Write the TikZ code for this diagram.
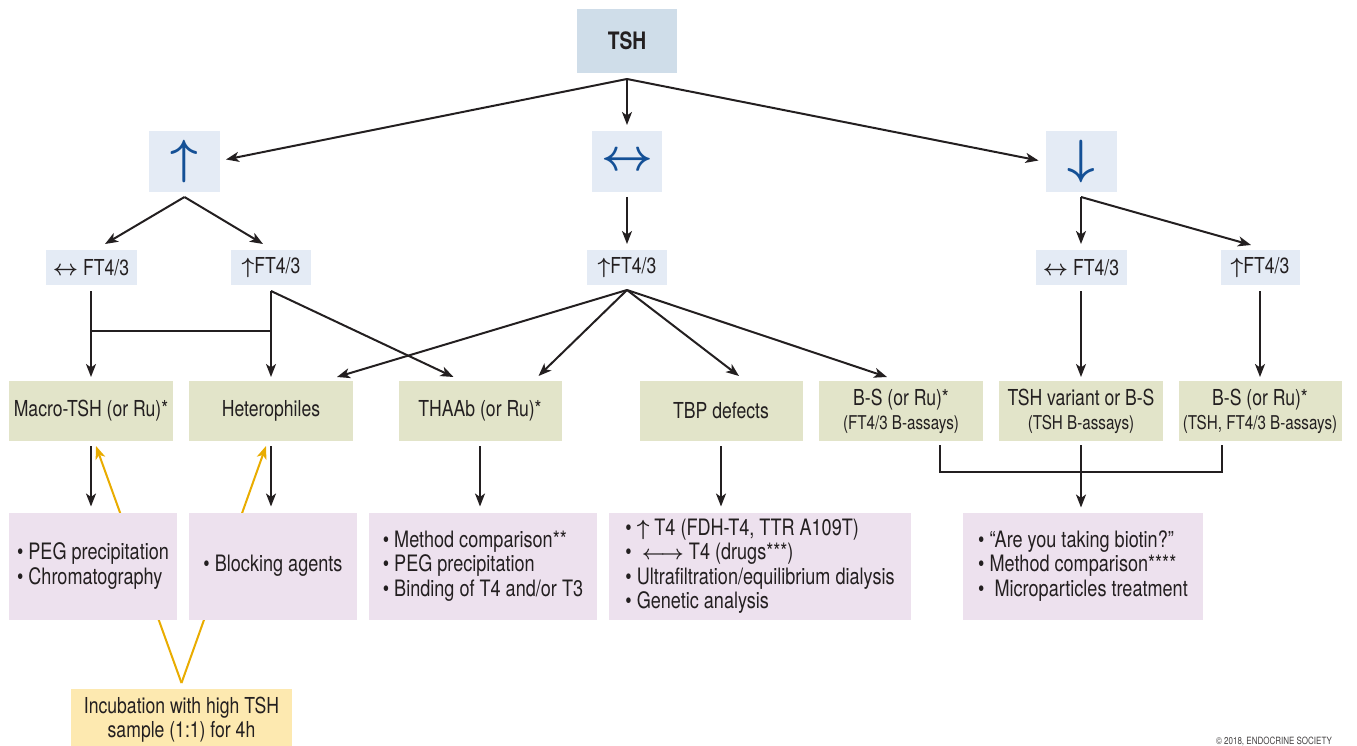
\documentclass[tikz,border=0pt]{standalone}
\usepackage{graphicx}
\usepackage{bm}
\usepackage{fontspec}
\setmainfont{TeX Gyre Heros}[FakeStretch=0.8]
\usetikzlibrary{arrows.meta,calc}
\definecolor{tshblue}{RGB}{207,221,233}
\definecolor{lightblue}{RGB}{228,235,245}
\definecolor{boxgreen}{RGB}{226,228,201}
\definecolor{boxpurple}{RGB}{237,225,238}
\definecolor{boxyellow}{RGB}{253,233,176}
\definecolor{lineyellow}{RGB}{233,172,0}
\definecolor{arrowblue}{RGB}{20,80,150}
\definecolor{txt}{RGB}{35,31,32}
\newcommand{\subfnt}{\fontsize{19}{21}\selectfont}
\newcommand{\bigarr}[2]{{\fontsize{10}{12}\selectfont\scalebox{#1}{$\bm{#2}$}}}
\newcommand{\sarr}[2]{{\fontsize{10}{12}\selectfont\scalebox{#1}{$\bm{#2}$}}}
\begin{document}
\begin{tikzpicture}[x=1pt,y=-1pt,
  box/.style={rectangle, inner sep=0pt, outer sep=0pt, text=txt, align=center},
  tshbox/.style={box, fill=tshblue, minimum width=100pt, minimum height=64pt, font=\bfseries\fontsize{24}{26}\selectfont},
  arrbox/.style={box, fill=lightblue, minimum width=71pt, minimum height=61pt, text=arrowblue},
  ftbox/.style={box, fill=lightblue, minimum height=35pt, font=\fontsize{22}{24}\selectfont},
  gbox/.style={box, fill=boxgreen, minimum height=60pt, font=\fontsize{22}{24}\selectfont},
  pbox/.style={box, fill=boxpurple, minimum height=107pt, align=left, font=\fontsize{22.6}{24.5}\selectfont},
  ybox/.style={box, fill=boxyellow, font=\fontsize{22}{24}\selectfont},
  plain/.style={line width=2pt, draw=txt},
  conn/.style={plain, -{Stealth[length=13pt,width=10pt,inset=3.5pt]}},
  yconn/.style={line width=2pt, draw=lineyellow, -{Stealth[length=13pt,width=10pt,inset=3.5pt]}}
]
\useasboundingbox (0,0) rectangle (1357,746);

% top levels
\node[tshbox] (tsh) at (627,41) {TSH};
\node[arrbox] (up) at (184.5,161.5) {\bigarr{4.8}{\uparrow}};
\node[arrbox, minimum width=70pt] (eq) at (627,161.5) {\bigarr{4.5}{\leftrightarrow}};
\node[arrbox] (down) at (1081,161.5) {\bigarr{4.8}{\downarrow}};

\node[ftbox, minimum width=91pt] (ftA) at (91,267.5) {\sarr{2.2}{\leftrightarrow} FT4/3};
\node[ftbox, minimum width=80pt] (ftB) at (271,267.5) {\sarr{2.2}{\uparrow}FT4/3};
\node[ftbox, minimum width=80pt] (ftC) at (627,267.5) {\sarr{2.2}{\uparrow}FT4/3};
\node[ftbox, minimum width=91pt] (ftD) at (1081,267.5) {\sarr{2.2}{\leftrightarrow} FT4/3};
\node[ftbox, minimum width=79pt] (ftE) at (1260,267.5) {\sarr{2.2}{\uparrow}FT4/3};

\node[gbox, minimum width=164pt] (g1) at (91,411) {Macro-TSH (or Ru)*};
\node[gbox, minimum width=164pt] (g2) at (271,411) {Heterophiles};
\node[gbox, minimum width=163pt] (g3) at (480,411) {THAAb (or Ru)*};
\node[gbox, minimum width=163pt] (g4) at (721,411) {TBP defects};
\node[gbox, minimum width=164pt] (g5) at (901,411) {B-S (or Ru)*\\[0pt]{\subfnt (FT4/3 B-assays)}};
\node[gbox, minimum width=164pt] (g6) at (1081,411) {TSH variant or B-S\\[0pt]{\subfnt (TSH B-assays)}};
\node[gbox, minimum width=163pt] (g7) at (1260,411) {B-S (or Ru)*\\[0pt]{\subfnt (TSH, FT4/3 B-assays)}};

\node[ybox, minimum width=221pt, minimum height=61pt] (yel) at (181.5,719.5) {Incubation with high TSH\\sample (1:1) for 4h};

% yellow connectors (behind purple boxes)
\coordinate (yJ) at ($(yel.north)+(0,-6)$);
\draw[yconn] (yJ) -- ($(g1.south)+(5,5)$);
\draw[yconn] (yJ) -- ($(g2.south)+(-5,5)$);

\node[pbox, minimum width=168pt] (p1) at (93,566) {\textbullet\ PEG precipitation\\\textbullet\ Chromatography};
\node[pbox, minimum width=168pt] (p2) at (273,566) {\textbullet\ Blocking agents};
\node[pbox, minimum width=228pt] (p3) at (483,566) {\textbullet\ Method comparison**\\\textbullet\ PEG precipitation\\\textbullet\ Binding of T4 and/or T3};
\node[pbox, minimum width=302pt] (p4) at (760,566) {\textbullet\ \sarr{2.2}{\uparrow} T4 (FDH-T4, TTR A109T)\\\textbullet\ \ \sarr{2}{\longleftrightarrow} T4 (drugs***)\\\textbullet\ Ultrafiltration/equilibrium dialysis\\\textbullet\ Genetic analysis};
\node[pbox, minimum width=240pt] (p5) at (1083,566) {\textbullet\ “Are you taking biotin?”\\\textbullet\ Method comparison****\\\textbullet\ \ Microparticles treatment};

\node[font=\fontsize{10}{10}\selectfont, text=txt!85, inner sep=0pt] (copy) at (1274,741) {© 2018, ENDOCRINE SOCIETY};

% TSH level connectors
\coordinate (tshJ) at ($(tsh.south)+(0,6)$);
\draw[conn] (tshJ) -- ($(up.east)+(6,-2)$);
\draw[conn] (tshJ) -- ($(eq.north)+(0,-6)$);
\draw[conn] (tshJ) -- ($(down.west)+(-7,-1)$);

\coordinate (upJ) at ($(up.south)+(0,5)$);
\draw[conn] (upJ) -- ($(ftA.north)+(14,-6)$);
\draw[conn] (upJ) -- ($(ftB.north)+(-8,-6)$);
\coordinate (eqJ) at ($(eq.south)+(0,5)$);
\draw[conn] (eqJ) -- ($(ftC.north)+(0,-6)$);
\coordinate (downJ) at ($(down.south)+(0,5)$);
\draw[conn] (downJ) -- ($(ftD.north)+(0,-6)$);
\draw[conn] (downJ) -- ($(ftE.north)+(-9,-5)$);

% FT level connectors
\draw[conn] ($(ftA.south)+(0,6)$) -- ($(g1.north)+(0,-4)$);
\draw[conn] ($(ftB.south)+(0,6)$) -- ($(g2.north)+(0,-4)$);
\draw[plain] ($(ftA.south)+(0,46)$) -- ($(ftB.south)+(0,46)$);
\draw[conn] ($(ftB.south)+(0,6)$) -- ($(g3.north west)+(55,-4)$);
\coordinate (ftCJ) at ($(ftC.south)+(0,5)$);
\draw[conn] (ftCJ) -- ($(g2.north east)+(-16,-4)$);
\draw[conn] (ftCJ) -- ($(g3.north east)+(-23,-5)$);
\draw[conn] (ftCJ) -- ($(g4.north)+(18,-5)$);
\draw[conn] (ftCJ) -- ($(g5.north)+(-14,-4)$);
\draw[conn] ($(ftD.south)+(0,6)$) -- ($(g6.north)+(0,-4)$);
\draw[conn] ($(ftE.south)+(0,6)$) -- ($(g7.north)+(0,-4)$);

% green to purple
\draw[conn] ($(g1.south)+(0,5)$) -- ($(g1.south |- p1.north)+(0,-6)$);
\draw[conn] ($(g2.south)+(0,5)$) -- ($(g2.south |- p2.north)+(0,-6)$);
\draw[conn] ($(g3.south)+(0,5)$) -- ($(g3.south |- p3.north)+(0,-6)$);
\draw[conn] ($(g4.south)+(0,5)$) -- ($(g4.south |- p4.north)+(0,-6)$);

% bracket
\coordinate (bL) at ($(g5.south)+(39,4)$);
\coordinate (bR) at ($(g7.south)+(-38,4)$);
\draw[plain] (bL) -- ++(0,27) -| (bR);
\draw[conn] ($(g6.south)+(0,4)$) -- ($(g6.south |- p5.north)+(0,-5)$);
\end{tikzpicture}
\end{document}
